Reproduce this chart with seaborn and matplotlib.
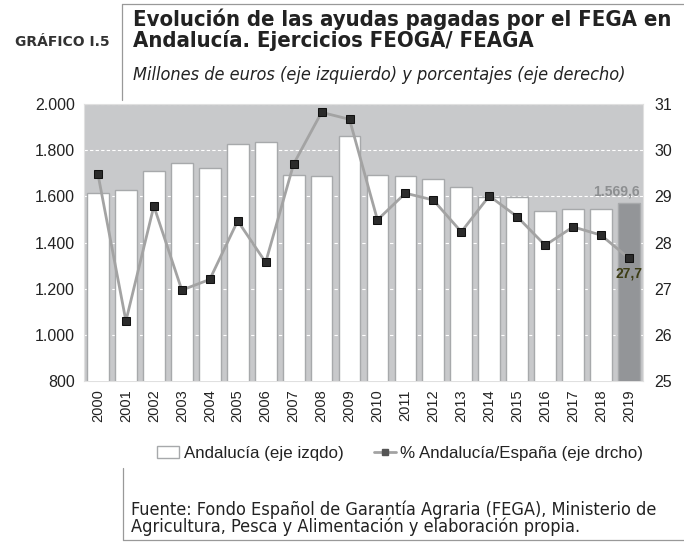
import numpy as np
import pandas as pd
import matplotlib
matplotlib.use('Agg')
import matplotlib.pyplot as plt
import seaborn as sns
from matplotlib.ticker import FuncFormatter
from matplotlib.lines import Line2D
from matplotlib.patches import Patch

# datos
years = [str(y) for y in range(2000, 2020)]
ayudas = [1616, 1626, 1711, 1746, 1721, 1825, 1837, 1692, 1689, 1863,
          1692, 1689, 1675, 1642, 1596, 1596, 1538, 1544, 1544, 1569.6]
pct_esp = [29.48, 26.30, 28.79, 26.97, 27.20, 28.47, 27.57, 29.70, 30.82, 30.67,
           28.49, 29.07, 28.92, 28.23, 29.01, 28.56, 27.94, 28.34, 28.16, 27.66]
left_ticks = [800, 1000, 1200, 1400, 1600, 1800, 2000]
right_ticks = [25, 26, 27, 28, 29, 30, 31]

df = pd.DataFrame({'year': years, 'ayudas': ayudas, 'pct': pct_esp})

sns.set_style('white')
plt.rcParams['font.family'] = ['Liberation Sans', 'DejaVu Sans']

fig = plt.figure(figsize=(6.84, 5.42), dpi=100)
ax = fig.add_axes([0.1228, 0.297, 0.8172, 0.511])
ax.set_facecolor('#c8c9cb')

bar_cols = ['#ffffff'] * (len(years) - 1) + ['#939598']
sns.barplot(data=df, x='year', y='ayudas', hue='year', palette=bar_cols,
            legend=False, width=0.78, edgecolor='#a7a9ab', linewidth=1,
            saturation=1, ax=ax, zorder=3)
ax.set_ylim(800, 2000)
ax.set_xlim(-0.5, len(years) - 0.5)
ax.set_yticks(left_ticks)
ax.yaxis.set_major_formatter(FuncFormatter(lambda v, p: f'{int(v):,}'.replace(',', '.')))
ax.set_xlabel('')
ax.set_ylabel('')
for v in left_ticks[1:]:
    ax.axhline(v, color='white', lw=0.8, ls=(0, (3, 2)), zorder=1)
for s in ax.spines.values():
    s.set_color('#e0e0e0')
    s.set_linewidth(0.8)
ax.tick_params(axis='y', labelsize=11.5, colors='#222222', length=0, pad=6.5)
ax.tick_params(axis='x', labelsize=10.5, colors='#222222', length=0, rotation=90, pad=6)

ax2 = ax.twinx()
sns.lineplot(x=np.arange(len(years)), y=df['pct'], ax=ax2, color='#a3a3a3', lw=2,
             marker='s', markersize=6, markerfacecolor='#2b2b2b',
             markeredgecolor='#111111', zorder=4)
ax2.set_ylim(25, 31)
ax2.set_yticks(right_ticks)
ax2.set_ylabel('')
ax2.tick_params(axis='y', labelsize=11.5, colors='#222222', length=0, pad=8)
for s in ax2.spines.values():
    s.set_visible(False)

# etiquetas 2019
ax.text(len(years) - 0.6, ayudas[-1] + 22, '1.569,6', ha='right', va='bottom',
        fontsize=10, fontweight='bold', color='#8d8f91')
ax2.text(len(years) - 1.0, pct_esp[-1] - 0.17, '27,7', ha='center', va='top',
         fontsize=10, fontweight='bold', color='#3c3c14')

# cabecera
fig.text(0.022, 0.922, 'GRÁFICO I.5', family=['DejaVu Sans'], fontsize=10,
         fontweight='bold', color='#333333', va='center')
fig.add_artist(Line2D([0.178, 0.178], [0.815, 0.992], color='#999999', lw=0.9))
fig.add_artist(Line2D([0.178, 1.0], [0.993, 0.993], color='#999999', lw=0.9))
fig.text(0.194, 0.984, 'Evolución de las ayudas pagadas por el FEGA en\nAndalucía. Ejercicios FEOGA/ FEAGA',
         family=['DejaVu Sans'], fontstretch='condensed', fontsize=15.8, fontweight='bold',
         color='#222222', va='top', linespacing=0.98)
fig.text(0.194, 0.862, 'Millones de euros (eje izquierdo) y porcentajes (eje derecho)',
         family=['DejaVu Sans'], fontstretch='condensed', fontsize=13, style='italic',
         color='#222222', va='center')

# leyenda
handles = [Patch(facecolor='white', edgecolor='#a7a9ab', label='Andalucía (eje izqdo)'),
           Line2D([], [], color='#a3a3a3', lw=2, marker='s', markersize=4.5,
                  markerfacecolor='#555555', markeredgecolor='#555555',
                  label='% Andalucía/España (eje drcho)')]
fig.legend(handles=handles, loc='center', bbox_to_anchor=(0.585, 0.163), ncol=2,
           frameon=False, fontsize=12.2, handlelength=1.3, handletextpad=0.25,
           columnspacing=1.8, labelcolor='#222222')

# fuente
fig.add_artist(Line2D([0.180, 0.180], [0.004, 0.137], color='#999999', lw=0.9))
fig.add_artist(Line2D([0.180, 1.0], [0.004, 0.004], color='#999999', lw=0.9))
fig.text(0.191, 0.044, 'Fuente: Fondo Español de Garantía Agraria (FEGA), Ministerio de\n'
         'Agricultura, Pesca y Alimentación y elaboración propia.',
         family=['DejaVu Sans'], fontstretch='condensed', fontsize=13,
         color='#222222', va='center', linespacing=0.9)

fig.savefig('out.png', dpi=100)
